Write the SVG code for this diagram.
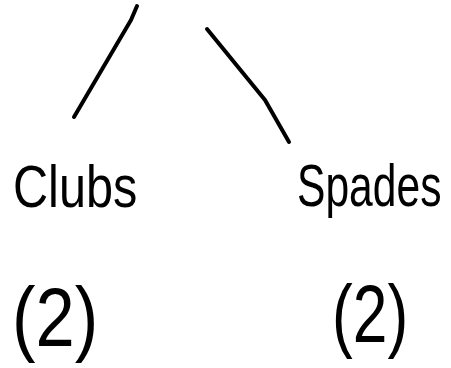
<svg xmlns="http://www.w3.org/2000/svg" width="451" height="368" viewBox="0 0 451 368">
<style>
.e{fill:none;stroke:#000;stroke-width:4;stroke-linecap:round;stroke-linejoin:round}
.t{font-family:"Liberation Sans",Arial,sans-serif;fill:#000}
</style>
<rect width="451" height="368" fill="#fff"/>
<g id="connectors">
<path class="e" d="M137,6 L131,20 L74,117"/>
<path class="e" d="M207,29 L265,100 L289,142"/>
</g>
<g id="clubs">
<text class="t" transform="translate(13,207) scale(0.81,1)" font-size="60">Clubs</text>
</g>
<g id="spades">
<text class="t" transform="translate(297,206) scale(0.71,1)" font-size="60">Spades</text>
</g>
<g id="clubs-count">
<text class="t" transform="translate(12,346) scale(0.84,1)" font-size="84">(2)</text>
</g>
<g id="spades-count">
<text class="t" transform="translate(332,342) scale(0.76,1)" font-size="82">(2)</text>
</g>
</svg>
